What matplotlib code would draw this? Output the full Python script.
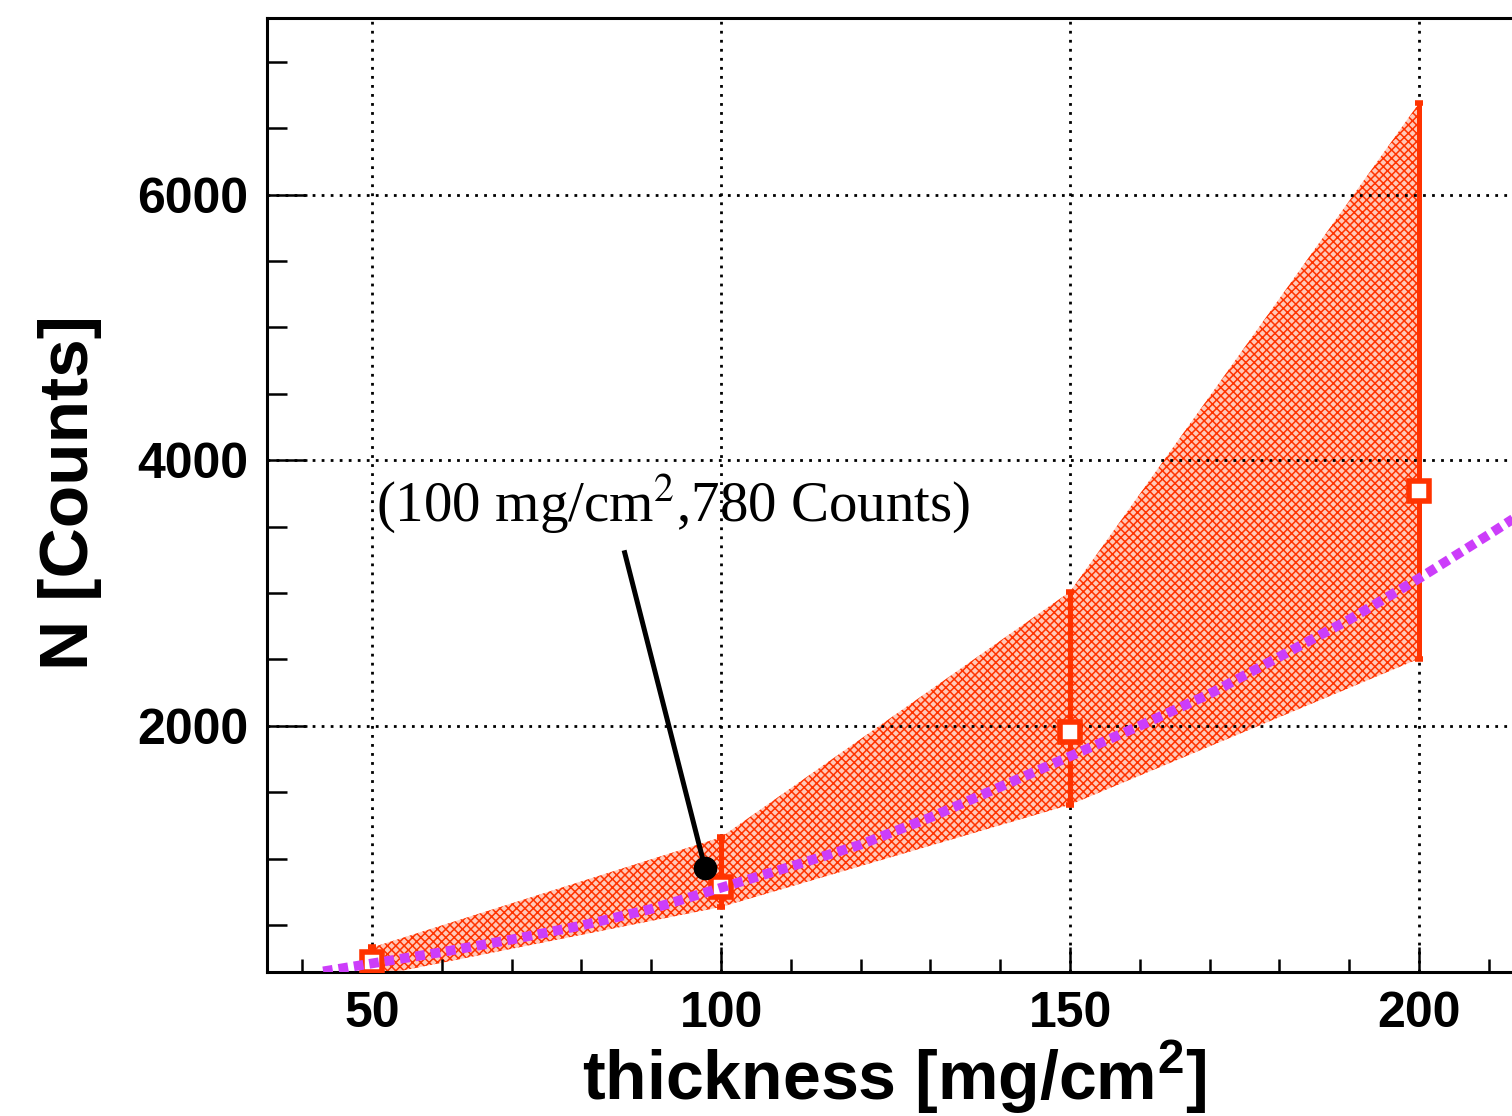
import matplotlib.pyplot as plt
from matplotlib.ticker import MultipleLocator

# measured points
thickness = [50, 100, 150, 200]
counts = [220, 785, 1950, 3770]
band_low = [110, 635, 1405, 2505]
band_high = [330, 1160, 3010, 6690]

# fitted curve
fit_x = [43, 50, 60, 70, 80, 90, 100, 110, 120, 130, 140, 150, 160, 170, 180, 190, 200, 210, 215]
fit_y = [150, 210, 295, 390, 495, 620, 780, 940, 1105, 1310, 1540, 1770, 2000, 2240, 2520, 2800, 3110, 3440, 3610]

# annotation arrow (start, end) in data units
arrow_x = [86.2, 97.7]
arrow_y = [3303, 930]

red = '#ff3300'
purple = '#cc3dfa'

plt.rcParams['hatch.linewidth'] = 1.1
plt.rcParams['mathtext.fontset'] = 'custom'
plt.rcParams['mathtext.rm'] = 'Liberation Sans:bold'

fig = plt.figure(figsize=(15.12, 11.16), dpi=100)
ax = fig.add_axes([0.1768, 0.1290, 0.8310, 0.8548])

ax.fill_between(thickness, band_low, band_high, facecolor='#ffc8b8',
                edgecolor=red, hatch='xxxx', linewidth=0, zorder=2)

err = [[c - l for c, l in zip(counts, band_low)],
       [h - c for c, h in zip(counts, band_high)]]
ax.errorbar(thickness, counts, yerr=err, fmt='s', color=red, ecolor=red,
            elinewidth=3.6, capsize=3, capthick=3, markersize=15,
            markeredgewidth=4, markerfacecolor='white', zorder=4)

ax.plot(fit_x, fit_y, color=purple, lw=7, linestyle=(0, (1, 0.6)), zorder=5)

ax.plot(arrow_x, arrow_y, color='black', lw=3.6, zorder=6)
ax.plot(arrow_x[1], arrow_y[1], 'o', color='black', markersize=16, zorder=6)
ax.text(50.6, 3537, '(100 mg/cm$^2$,780 Counts)', family='Liberation Serif',
        math_fontfamily='stix', fontsize=41, va='baseline', ha='left', zorder=7)

ax.set_xlim(35, 215)
ax.set_ylim(145, 7330)
ax.xaxis.set_major_locator(MultipleLocator(50))
ax.xaxis.set_minor_locator(MultipleLocator(10))
ax.yaxis.set_major_locator(MultipleLocator(2000))
ax.yaxis.set_minor_locator(MultipleLocator(500))
ax.set_axisbelow(False)
ax.grid(True, which='major', color='black', linestyle=(0, (1, 2.25)), lw=2)

ax.tick_params(axis='x', which='major', direction='in', length=18, width=1.8, pad=14)
ax.tick_params(axis='x', which='minor', direction='in', length=9.4, width=1.8)
ax.tick_params(axis='y', which='major', direction='in', length=28.8, width=1.8, pad=14)
ax.tick_params(axis='y', which='minor', direction='in', length=14.4, width=1.8)
for lbl in ax.get_xticklabels() + ax.get_yticklabels():
    lbl.set_family('Liberation Sans')
    lbl.set_fontweight('bold')
    lbl.set_fontsize(36)
for sp in ax.spines.values():
    sp.set_linewidth(2.2)

fig.text(894 / 1512, 16 / 1116, 'thickness [mg/cm$^2$]', family='Liberation Sans',
         fontweight='bold', fontsize=49, ha='center', va='baseline')
fig.text(88 / 1512, 0.559, 'N [Counts]', family='Liberation Sans',
         fontweight='bold', fontsize=50, ha='center', va='baseline',
         rotation=90, rotation_mode='anchor')

plt.savefig('out.png', dpi=100)
